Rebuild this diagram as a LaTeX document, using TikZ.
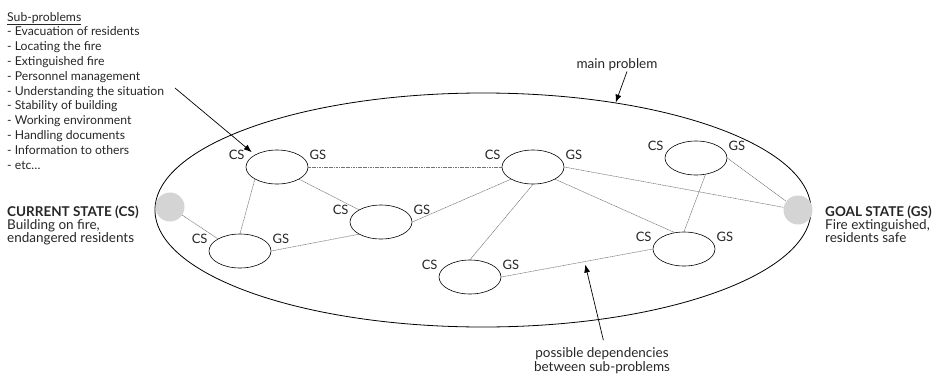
\documentclass[tikz,border=0pt]{standalone}
\usepackage{fontspec}
\setmainfont{Lato}
\usetikzlibrary{shapes.geometric,arrows.meta,calc}

\tikzset{
  lbl/.style={inner sep=1pt, font=\fontsize{13}{15}\selectfont},
  sub/.style={ellipse, draw, line width=0.6pt, minimum width=62pt, minimum height=34pt, inner sep=0pt,
    label={[lbl,anchor=base east,yshift=8pt]west:CS},
    label={[lbl,anchor=base west,yshift=8pt]east:GS}},
  state/.style={circle, fill=black!17, minimum size=29pt, inner sep=0pt},
  dep/.style={draw=black!55, line width=0.5pt, dash pattern=on 1.2pt off 0.5pt},
  note/.style={-{Latex[length=8pt,width=6pt]}, line width=0.7pt},
  big/.style={font=\fontsize{13.5}{13}\selectfont},
}

\begin{document}
\begin{tikzpicture}[x=1pt, y=-1pt, font=\fontsize{12.2}{14.8}\selectfont, text=black!85]
	\useasboundingbox (0,0) rectangle (942,375);
	% main problem and the two states
	\node[ellipse, draw, line width=0.8pt, minimum width=656pt, minimum height=234pt] (main) at (483,210) {};
	\node[state] (cs) at (170,207) {};
	\node[state] (gs) at (798,210) {};
	% sub-problems
	\node[sub] (e1) at (277,167) {};
	\node[sub] (e2) at (240,251) {};
	\node[sub] (e3) at (381,222) {};
	\node[sub] (e4) at (533,167) {};
	\node[sub] (e5) at (470,277) {};
	\node[sub] (e6) at (696,158) {};
	\node[sub] (e7) at (684,249) {};
	% dependencies
	\draw[dep] (cs) -- (e2.north west);
	\draw[dep] (e1.south west) -- (e2.north);
	\draw[dep] (e1.east) -- (e4.west);
	\draw[dep] (e1.south east) -- (e3.north west);
	\draw[dep] (e2.east) -- (e3.south west);
	\draw[dep] (e3.east) -- (e4.south west);
	\draw[dep] (e4.south) -- (e5.north);
	\draw[dep] (e4.east) -- (gs);
	\draw[dep] (e4.south east) -- (e7.120);
	\draw[dep] (e5.east) -- (e7.west);
	\draw[dep] (e6.-60) -- (e7.north);
	\draw[dep] (e6.east) -- (gs);
	% texts
	\node[anchor=north west, align=left, inner sep=0pt] (list) at (7,12)
		{\underline{Sub-problems}\\- Evacuation of residents\\- Locating the fire\\- Extinguished fire\\- Personnel management\\- Understanding the situation\\- Stability of building\\- Working environment\\- Handling documents\\- Information to others\\- etc…};
	\node[big, anchor=north west, align=left, inner sep=0pt] (cur) at (7,206)
		{\textbf{CURRENT STATE (CS)}\\Building on fire,\\endangered residents};
	\node[big, anchor=north west, align=left, inner sep=0pt] (goal) at (825,206)
		{\textbf{GOAL STATE (GS)}\\Fire extinguished,\\residents safe};
	\node[big, anchor=base, inner sep=1pt] (mp) at (617,68) {main problem};
	\node[big, anchor=north, align=center, inner sep=0pt, font=\fontsize{13.5}{14}\selectfont] (pd) at (602,347)
		{possible dependencies\\between sub-problems};
	% arrows
	\coordinate (sp) at (175,88);
	\coordinate (dp) at ($(e5.east)!0.55!(e7.west)$);
	\draw[note, shorten >=4pt] (sp) -- (e1.north west);
	\draw[note] ([xshift=10pt]mp.south) -- (main.39);
	\draw[note, shorten <=7pt, shorten >=3pt] ([xshift=3pt]pd.north) -- (dp);
\end{tikzpicture}
\end{document}
